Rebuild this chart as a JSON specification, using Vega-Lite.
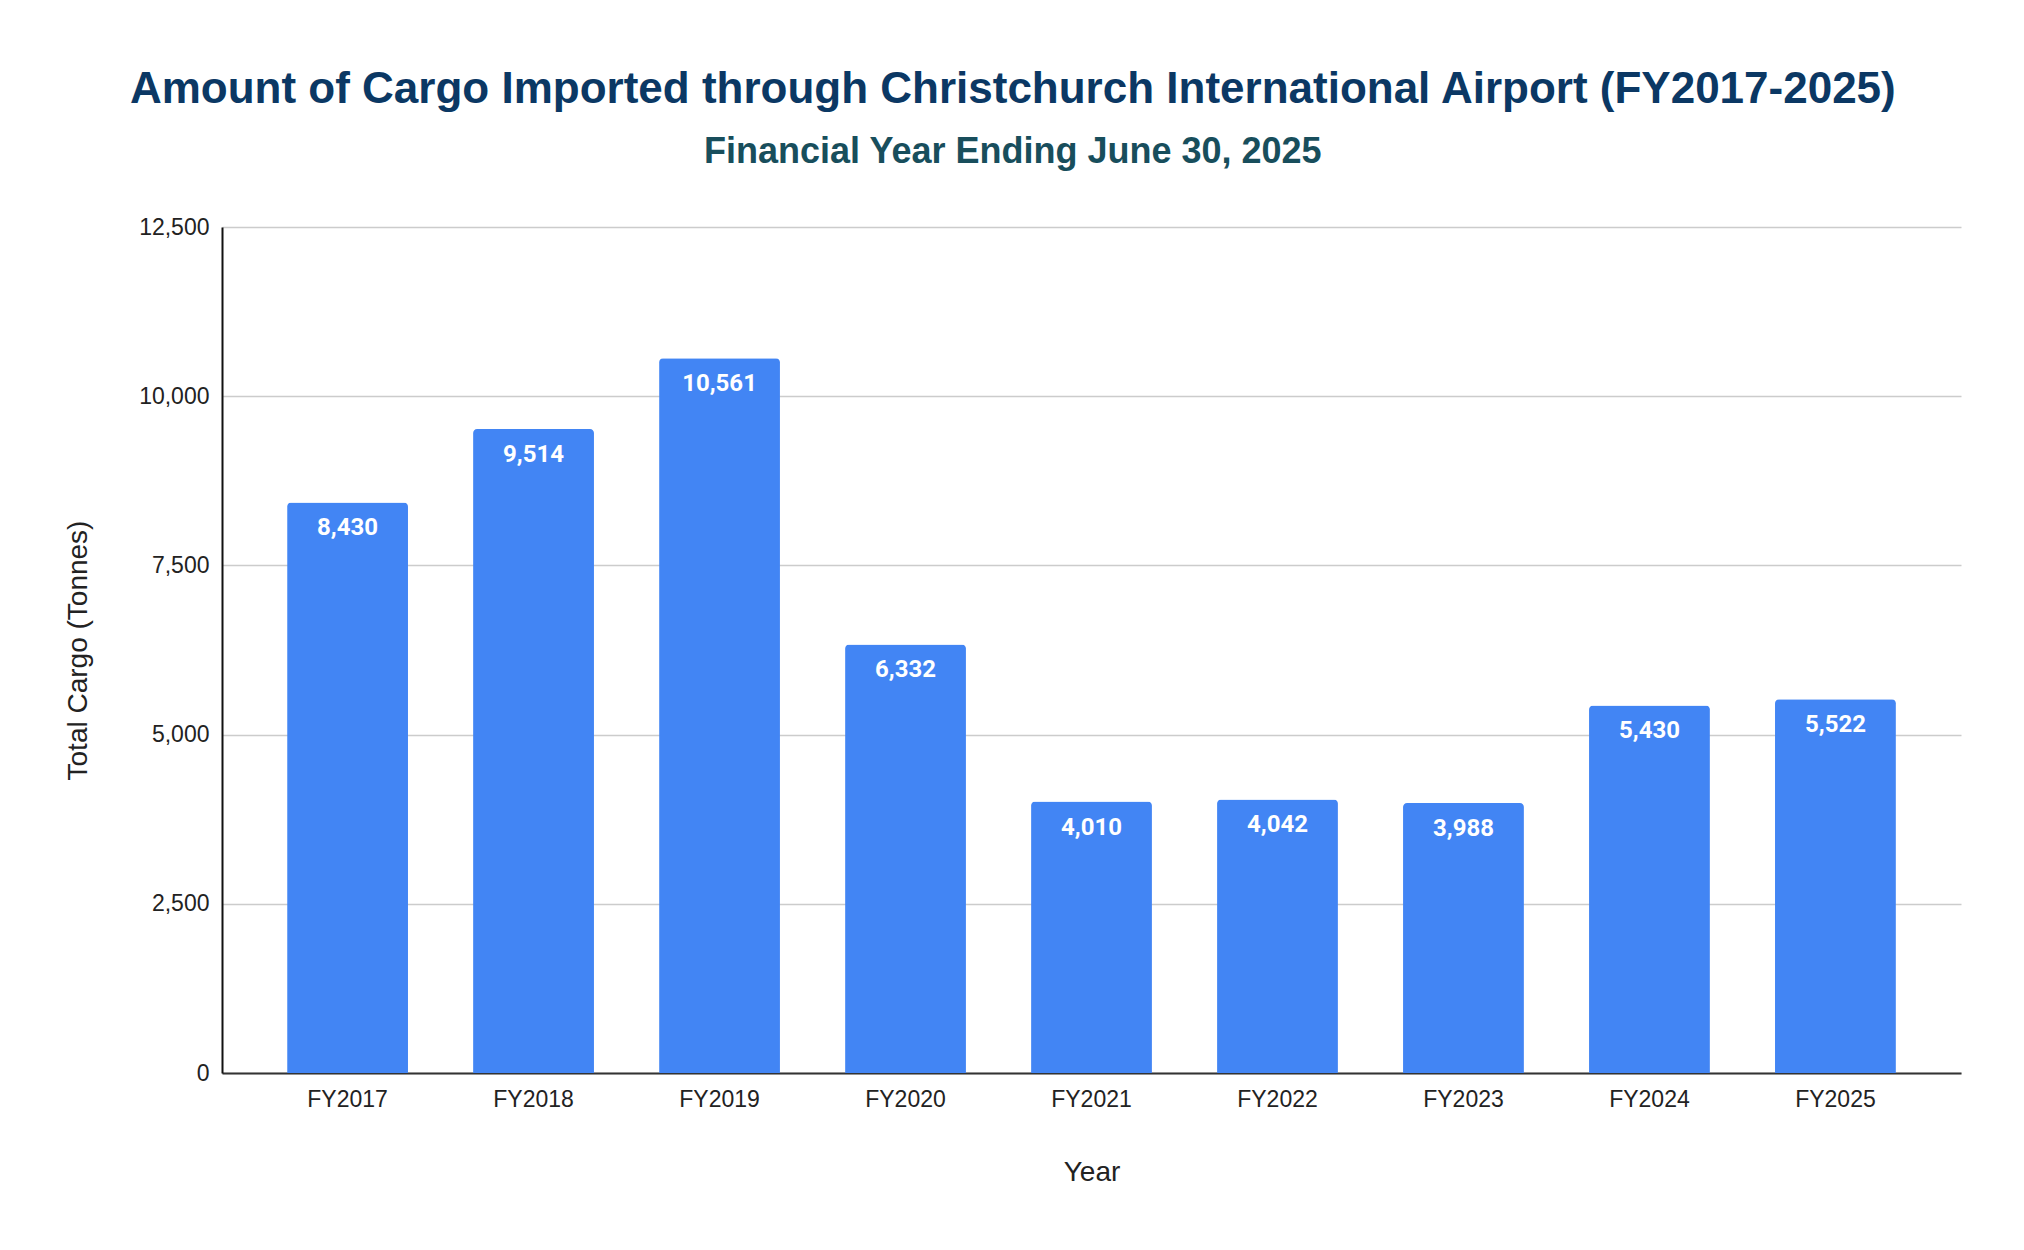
{
  "$schema": "https://vega.github.io/schema/vega-lite/v6.json",
  "width": 1739,
  "height": 846,
  "autosize": {"type": "none"},
  "padding": {"left": 222, "top": 227, "right": 63, "bottom": 177},
  "background": "white",
  "title": {
    "text": "Amount of Cargo Imported through Christchurch International Airport (FY2017-2025)",
    "subtitle": "Financial Year Ending June 30, 2025",
    "anchor": "middle",
    "frame": "bounds",
    "font": "Liberation Sans",
    "fontSize": 44,
    "fontWeight": "bold",
    "color": "#0b3864",
    "subtitleFont": "Liberation Sans",
    "subtitleFontSize": 36,
    "subtitleFontWeight": "bold",
    "subtitleColor": "#184e5c",
    "subtitlePadding": 23,
    "offset": 46
  },
  "data": {
    "values": [
      {"year": "FY2017", "cargo": 8430},
      {"year": "FY2018", "cargo": 9514},
      {"year": "FY2019", "cargo": 10561},
      {"year": "FY2020", "cargo": 6332},
      {"year": "FY2021", "cargo": 4010},
      {"year": "FY2022", "cargo": 4042},
      {"year": "FY2023", "cargo": 3988},
      {"year": "FY2024", "cargo": 5430},
      {"year": "FY2025", "cargo": 5522}
    ]
  },
  "encoding": {
    "x": {
      "field": "year",
      "type": "nominal",
      "sort": null,
      "title": "Year",
      "scale": {"paddingInner": 0.35, "paddingOuter": 0.35},
      "axis": {
        "labelAngle": 0,
        "labelFont": "Liberation Sans",
        "labelFontSize": 23,
        "labelColor": "#222222",
        "labelPadding": 15,
        "ticks": false,
        "domainColor": "#333333",
        "domainWidth": 2,
        "titleFont": "Liberation Sans",
        "titleFontSize": 28,
        "titleFontWeight": "normal",
        "titleColor": "#222222",
        "titlePadding": 47
      }
    },
    "y": {
      "field": "cargo",
      "type": "quantitative",
      "title": "Total Cargo (Tonnes)",
      "scale": {"domain": [0, 12500], "nice": false},
      "axis": {
        "values": [0, 2500, 5000, 7500, 10000, 12500],
        "format": ",d",
        "labelFont": "Liberation Sans",
        "labelFontSize": 23,
        "labelColor": "#222222",
        "labelPadding": 13,
        "ticks": false,
        "domainColor": "#111111",
        "domainWidth": 2,
        "gridColor": "#cccccc",
        "gridWidth": 1.5,
        "titleFont": "Liberation Sans",
        "titleFontSize": 28,
        "titleFontWeight": "normal",
        "titleColor": "#222222",
        "titlePadding": 46
      }
    }
  },
  "layer": [
    {
      "mark": {
        "type": "bar",
        "color": "#4285f4",
        "cornerRadiusTopLeft": 4,
        "cornerRadiusTopRight": 4
      }
    },
    {
      "mark": {
        "type": "text",
        "baseline": "middle",
        "dy": 26,
        "font": "Roboto",
        "fontSize": 24,
        "fontWeight": "bold",
        "color": "white"
      },
      "encoding": {
        "text": {"field": "cargo", "type": "quantitative", "format": ","}
      }
    }
  ],
  "config": {
    "view": {"stroke": null}
  }
}
